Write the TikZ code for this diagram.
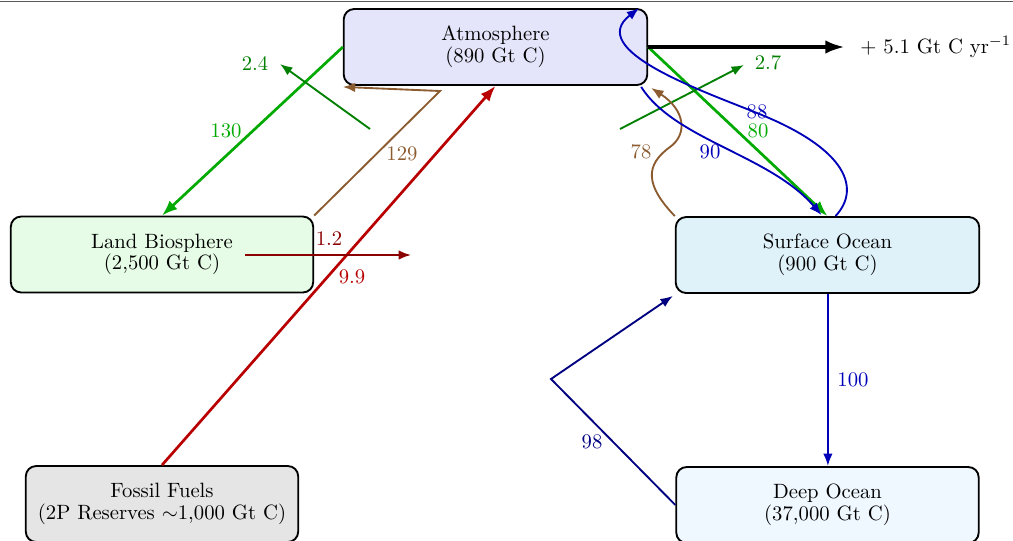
\documentclass[tikz,border=0pt]{standalone}
\usetikzlibrary{arrows.meta,calc}
\definecolor{atmfill}{RGB}{228,228,250}
\definecolor{landfill}{RGB}{230,252,230}
\definecolor{surffill}{RGB}{223,242,250}
\definecolor{deepfill}{RGB}{240,248,255}
\definecolor{fossfill}{RGB}{229,229,229}
\definecolor{gbright}{RGB}{0,170,0}
\definecolor{gdark}{RGB}{0,128,0}
\definecolor{brownc}{RGB}{140,92,48}
\definecolor{fred}{RGB}{185,0,0}
\definecolor{dred}{RGB}{139,0,0}
\definecolor{oblue}{RGB}{0,0,185}
\definecolor{navyc}{RGB}{0,0,128}
\begin{document}
\begin{tikzpicture}[x=0.4831pt,y=-0.4831pt,
  box/.style={draw=black, line width=0.9pt, rounded corners=5pt, align=center,
    font=\fontsize{10}{10.5}\selectfont, inner sep=0pt, minimum height=36.7pt},
  lbl/.style={font=\fontsize{10}{12}\selectfont, inner sep=1pt},
  flow/.style={-{Latex[length=6pt,width=4.6pt]}, line width=0.9pt},
  bigflow/.style={-{Latex[length=7.5pt,width=5.6pt]}, line width=1.3pt}]
\useasboundingbox (0,0) rectangle (1013,540);
\draw[black!65, line width=0.8pt] (0,1.5) -- (1013,1.5);

% nodes
\node[box, fill=atmfill, minimum width=146.6pt] (atm) at (495.5,47) {Atmosphere\\(890 Gt C)};
\node[box, fill=landfill, minimum width=146.1pt] (land) at (162,254.5) {Land Biosphere\\(2,500 Gt C)};
\node[box, fill=surffill, minimum width=146.6pt] (surf) at (827.5,255) {Surface Ocean\\(900 Gt C)};
\node[box, fill=fossfill, minimum width=131.6pt] (fossil) at (162,504) {Fossil Fuels\\(2P Reserves $\sim$1,000 Gt C)};
\node[box, fill=deepfill, minimum width=146.1pt] (deep) at (827.5,505) {Deep Ocean\\(37,000 Gt C)};

% free ends
\coordinate (s24) at (370,129);
\coordinate (e24) at (280,64);
\coordinate (s27) at (620,129);
\coordinate (e27) at (744,65);
\coordinate (k129) at (440,91);
\coordinate (s12) at (245,255);
\coordinate (e12) at (411,255);
\coordinate (k98) at (551,379);
\coordinate (e51) at (845,47);
\coordinate (m78) at (670,147);
\coordinate (m88) at (757,113);

% flows
\draw[bigflow, gbright] (atm.west) -- (land.north);
\draw[flow, gdark] (s24) -- (e24);
\draw[flow, brownc] (land.north east) -- (k129) -- ($(atm.south west)+(0,1)$);
\draw[bigflow, fred] (fossil.north) -- (atm.south);
\draw[flow, dred] (s12) -- (e12);
\draw[bigflow, gbright] (atm.east) -- (surf.north);
\draw[flow, gdark] (s27) -- (e27);
\draw[flow, brownc] (surf.north west) .. controls (645,185) and (645,165) .. (m78)
   .. controls (688,134) and (685,110) .. ($(atm.south east)+(3,2)$);
\draw[flow, oblue] ($(atm.south east)+(-7,1)$) .. controls (675,140) and (770,155) .. ($(surf.north)+(-6,-1)$);
\draw[flow, oblue] ($(surf.north)+(8,0)$) .. controls (860,190) and (850,150) .. (m88)
   .. controls (700,90) and (585,50) .. ($(atm.north east)+(-9,0)$);
\draw[-{Latex[length=9.5pt,width=6.5pt]}, line width=2.3pt, black] (atm.east) -- (e51);
\draw[flow, oblue, line width=1.1pt] ($(surf.south)+(0.4,0)$) -- ($(deep.north)+(0.4,0)$);
\draw[flow, navyc] (deep.west) -- (k98) -- ($(surf.south west)+(-2,2)$);

% labels
\node[lbl, gdark] (l24) at (255,63) {2.4};
\node[lbl, gbright] (l130) at (226,131) {130};
\node[lbl, brownc] (l129) at (402,154) {129};
\node[lbl, dred] (l12) at (329,239) {1.2};
\node[lbl, fred] (l99) at (352,277) {9.9};
\node[lbl, brownc] (l78) at (641,152) {78};
\node[lbl, oblue] (l90) at (710,152) {90};
\node[lbl, oblue] (l88) at (757,112) {88};
\node[lbl, gbright] (l80) at (758,131) {80};
\node[lbl, gdark] (l27) at (768,63) {2.7};
\node[lbl, oblue] (l100) at (853,380) {100};
\node[lbl, navyc] (l98) at (592,442) {98};
\node[lbl, anchor=base west] (l51) at (858,53) {$+$ 5.1 Gt C yr$^{-1}$};
\end{tikzpicture}
\end{document}
